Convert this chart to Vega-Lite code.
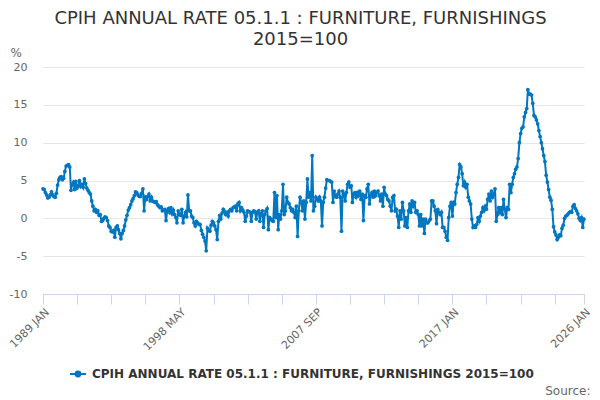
{
"$schema": "https://vega.github.io/schema/vega-lite/v6.json",
"width": 541, "height": 227,
"autosize": "none",
"padding": {"left": 43, "top": 67, "right": 16, "bottom": 106},
"background": "white",
"config": {"font": "DejaVu Sans", "view": {"stroke": null}},
"title": {"text": ["CPIH ANNUAL RATE 05.1.1 : FURNITURE, FURNISHINGS", "2015=100"], "fontSize": 18, "fontWeight": "normal", "color": "#333333", "anchor": "middle", "dx": -13, "offset": 0, "dy": 3, "lineHeight": 21},
"data": {"values": [
{"d":"1989-01","v":3.9},{"d":"1989-02","v":3.8},{"d":"1989-03","v":3.4},{"d":"1989-04","v":3.1},{"d":"1989-05","v":2.7},{"d":"1989-06","v":2.8},{"d":"1989-07","v":3.1},{"d":"1989-08","v":3.5},{"d":"1989-09","v":3.1},{"d":"1989-10","v":2.9},{"d":"1989-11","v":2.8},{"d":"1989-12","v":3.3},
{"d":"1990-01","v":4.4},{"d":"1990-02","v":5.1},{"d":"1990-03","v":5.4},{"d":"1990-04","v":5.5},{"d":"1990-05","v":5.1},{"d":"1990-06","v":5.3},{"d":"1990-07","v":6.2},{"d":"1990-08","v":6.9},{"d":"1990-09","v":7.0},{"d":"1990-10","v":7.1},{"d":"1990-11","v":6.8},{"d":"1990-12","v":3.7},
{"d":"1991-01","v":4.5},{"d":"1991-02","v":4.8},{"d":"1991-03","v":3.8},{"d":"1991-04","v":4.9},{"d":"1991-05","v":4.0},{"d":"1991-06","v":4.3},{"d":"1991-07","v":5.0},{"d":"1991-08","v":4.2},{"d":"1991-09","v":4.5},{"d":"1991-10","v":4.1},{"d":"1991-11","v":5.2},{"d":"1991-12","v":4.6},
{"d":"1992-01","v":4.0},{"d":"1992-02","v":3.7},{"d":"1992-03","v":3.4},{"d":"1992-04","v":3.2},{"d":"1992-05","v":2.3},{"d":"1992-06","v":1.6},{"d":"1992-07","v":1.0},{"d":"1992-08","v":1.2},{"d":"1992-09","v":0.8},{"d":"1992-10","v":1.0},{"d":"1992-11","v":0.4},{"d":"1992-12","v":0.5},
{"d":"1993-01","v":-0.4},{"d":"1993-02","v":-0.3},{"d":"1993-03","v":0.0},{"d":"1993-04","v":0.2},{"d":"1993-05","v":0.1},{"d":"1993-06","v":-0.3},{"d":"1993-07","v":-1.0},{"d":"1993-08","v":-1.2},{"d":"1993-09","v":-1.7},{"d":"1993-10","v":-1.8},{"d":"1993-11","v":-1.6},{"d":"1993-12","v":-2.5},
{"d":"1994-01","v":-1.2},{"d":"1994-02","v":-1.0},{"d":"1994-03","v":-1.5},{"d":"1994-04","v":-2.0},{"d":"1994-05","v":-2.7},{"d":"1994-06","v":-2.0},{"d":"1994-07","v":-1.6},{"d":"1994-08","v":-1.0},{"d":"1994-09","v":-0.2},{"d":"1994-10","v":0.4},{"d":"1994-11","v":1.1},{"d":"1994-12","v":1.4},
{"d":"1995-01","v":1.8},{"d":"1995-02","v":2.3},{"d":"1995-03","v":2.6},{"d":"1995-04","v":3.0},{"d":"1995-05","v":3.5},{"d":"1995-06","v":3.4},{"d":"1995-07","v":3.1},{"d":"1995-08","v":2.9},{"d":"1995-09","v":2.9},{"d":"1995-10","v":3.3},{"d":"1995-11","v":3.9},{"d":"1995-12","v":1.0},
{"d":"1996-01","v":2.8},{"d":"1996-02","v":2.5},{"d":"1996-03","v":2.9},{"d":"1996-04","v":3.2},{"d":"1996-05","v":2.3},{"d":"1996-06","v":2.8},{"d":"1996-07","v":2.3},{"d":"1996-08","v":2.2},{"d":"1996-09","v":2.1},{"d":"1996-10","v":2.2},{"d":"1996-11","v":1.8},{"d":"1996-12","v":1.6},
{"d":"1997-01","v":1.4},{"d":"1997-02","v":1.5},{"d":"1997-03","v":1.0},{"d":"1997-04","v":1.1},{"d":"1997-05","v":1.2},{"d":"1997-06","v":-0.3},{"d":"1997-07","v":1.0},{"d":"1997-08","v":1.3},{"d":"1997-09","v":0.8},{"d":"1997-10","v":1.4},{"d":"1997-11","v":0.6},{"d":"1997-12","v":1.1},
{"d":"1998-01","v":0.5},{"d":"1998-02","v":0.1},{"d":"1998-03","v":-0.6},{"d":"1998-04","v":1.0},{"d":"1998-05","v":0.5},{"d":"1998-06","v":0.4},{"d":"1998-07","v":1.2},{"d":"1998-08","v":-0.6},{"d":"1998-09","v":0.3},{"d":"1998-10","v":0.8},{"d":"1998-11","v":0.2},{"d":"1998-12","v":3.1},
{"d":"1999-01","v":1.0},{"d":"1999-02","v":1.0},{"d":"1999-03","v":0.3},{"d":"1999-04","v":0.1},{"d":"1999-05","v":-0.6},{"d":"1999-06","v":-1.0},{"d":"1999-07","v":-0.4},{"d":"1999-08","v":-0.6},{"d":"1999-09","v":-0.8},{"d":"1999-10","v":-0.8},{"d":"1999-11","v":-1.6},{"d":"1999-12","v":-2.1},
{"d":"2000-01","v":-2.5},{"d":"2000-02","v":-3.0},{"d":"2000-03","v":-4.3},{"d":"2000-04","v":-1.3},{"d":"2000-05","v":-1.6},{"d":"2000-06","v":-1.7},{"d":"2000-07","v":-0.9},{"d":"2000-08","v":-0.4},{"d":"2000-09","v":-0.6},{"d":"2000-10","v":-1.0},{"d":"2000-11","v":-1.5},{"d":"2000-12","v":-2.8},
{"d":"2001-01","v":-0.4},{"d":"2001-02","v":0.4},{"d":"2001-03","v":-0.1},{"d":"2001-04","v":0.7},{"d":"2001-05","v":1.2},{"d":"2001-06","v":0.9},{"d":"2001-07","v":0.5},{"d":"2001-08","v":0.8},{"d":"2001-09","v":0.3},{"d":"2001-10","v":1.0},{"d":"2001-11","v":1.2},{"d":"2001-12","v":1.0},
{"d":"2002-01","v":1.4},{"d":"2002-02","v":1.5},{"d":"2002-03","v":1.6},{"d":"2002-04","v":1.0},{"d":"2002-05","v":1.9},{"d":"2002-06","v":2.1},{"d":"2002-07","v":1.0},{"d":"2002-08","v":1.4},{"d":"2002-09","v":1.1},{"d":"2002-10","v":0.8},{"d":"2002-11","v":-0.4},{"d":"2002-12","v":0.3},
{"d":"2003-01","v":1.0},{"d":"2003-02","v":0.9},{"d":"2003-03","v":0.8},{"d":"2003-04","v":-0.4},{"d":"2003-05","v":0.8},{"d":"2003-06","v":1.0},{"d":"2003-07","v":0.9},{"d":"2003-08","v":-0.1},{"d":"2003-09","v":0.8},{"d":"2003-10","v":1.0},{"d":"2003-11","v":-0.4},{"d":"2003-12","v":0.6},
{"d":"2004-01","v":1.0},{"d":"2004-02","v":-1.2},{"d":"2004-03","v":0.5},{"d":"2004-04","v":1.0},{"d":"2004-05","v":1.3},{"d":"2004-06","v":-1.5},{"d":"2004-07","v":0.1},{"d":"2004-08","v":-0.1},{"d":"2004-09","v":-0.3},{"d":"2004-10","v":-0.4},{"d":"2004-11","v":3.4},{"d":"2004-12","v":0.1},
{"d":"2005-01","v":3.0},{"d":"2005-02","v":-1.5},{"d":"2005-03","v":0.5},{"d":"2005-04","v":-0.1},{"d":"2005-05","v":1.0},{"d":"2005-06","v":4.5},{"d":"2005-07","v":0.5},{"d":"2005-08","v":1.0},{"d":"2005-09","v":2.8},{"d":"2005-10","v":2.1},{"d":"2005-11","v":1.9},{"d":"2005-12","v":1.4},
{"d":"2006-01","v":1.0},{"d":"2006-02","v":1.2},{"d":"2006-03","v":0.8},{"d":"2006-04","v":0.1},{"d":"2006-05","v":1.6},{"d":"2006-06","v":-2.4},{"d":"2006-07","v":1.0},{"d":"2006-08","v":2.8},{"d":"2006-09","v":2.1},{"d":"2006-10","v":1.0},{"d":"2006-11","v":2.3},{"d":"2006-12","v":-0.1},
{"d":"2007-01","v":2.1},{"d":"2007-02","v":5.2},{"d":"2007-03","v":2.8},{"d":"2007-04","v":3.4},{"d":"2007-05","v":2.3},{"d":"2007-06","v":8.3},{"d":"2007-07","v":1.0},{"d":"2007-08","v":1.6},{"d":"2007-09","v":2.8},{"d":"2007-10","v":2.5},{"d":"2007-11","v":2.3},{"d":"2007-12","v":2.8},
{"d":"2008-01","v":2.3},{"d":"2008-02","v":-1.0},{"d":"2008-03","v":2.1},{"d":"2008-04","v":2.8},{"d":"2008-05","v":4.0},{"d":"2008-06","v":5.1},{"d":"2008-07","v":5.0},{"d":"2008-08","v":5.0},{"d":"2008-09","v":4.9},{"d":"2008-10","v":4.8},{"d":"2008-11","v":2.1},{"d":"2008-12","v":3.6},
{"d":"2009-01","v":2.9},{"d":"2009-02","v":2.8},{"d":"2009-03","v":3.2},{"d":"2009-04","v":3.6},{"d":"2009-05","v":2.8},{"d":"2009-06","v":-1.7},{"d":"2009-07","v":3.6},{"d":"2009-08","v":3.2},{"d":"2009-09","v":2.3},{"d":"2009-10","v":3.4},{"d":"2009-11","v":4.5},{"d":"2009-12","v":4.8},
{"d":"2010-01","v":4.1},{"d":"2010-02","v":4.3},{"d":"2010-03","v":2.1},{"d":"2010-04","v":3.2},{"d":"2010-05","v":3.4},{"d":"2010-06","v":2.8},{"d":"2010-07","v":3.4},{"d":"2010-08","v":3.0},{"d":"2010-09","v":3.6},{"d":"2010-10","v":2.5},{"d":"2010-11","v":3.2},{"d":"2010-12","v":-0.3},
{"d":"2011-01","v":3.0},{"d":"2011-02","v":2.8},{"d":"2011-03","v":3.9},{"d":"2011-04","v":4.5},{"d":"2011-05","v":1.9},{"d":"2011-06","v":3.0},{"d":"2011-07","v":3.4},{"d":"2011-08","v":2.8},{"d":"2011-09","v":3.6},{"d":"2011-10","v":3.0},{"d":"2011-11","v":3.4},{"d":"2011-12","v":3.6},
{"d":"2012-01","v":3.0},{"d":"2012-02","v":2.3},{"d":"2012-03","v":3.2},{"d":"2012-04","v":1.6},{"d":"2012-05","v":4.1},{"d":"2012-06","v":3.2},{"d":"2012-07","v":3.0},{"d":"2012-08","v":2.5},{"d":"2012-09","v":2.3},{"d":"2012-10","v":1.6},{"d":"2012-11","v":1.0},{"d":"2012-12","v":2.8},
{"d":"2013-01","v":3.0},{"d":"2013-02","v":1.0},{"d":"2013-03","v":1.2},{"d":"2013-04","v":0.3},{"d":"2013-05","v":-1.2},{"d":"2013-06","v":1.0},{"d":"2013-07","v":-0.1},{"d":"2013-08","v":2.1},{"d":"2013-09","v":1.0},{"d":"2013-10","v":-1.0},{"d":"2013-11","v":0.1},{"d":"2013-12","v":-1.2},
{"d":"2014-01","v":1.0},{"d":"2014-02","v":1.9},{"d":"2014-03","v":0.8},{"d":"2014-04","v":2.3},{"d":"2014-05","v":1.6},{"d":"2014-06","v":2.1},{"d":"2014-07","v":0.8},{"d":"2014-08","v":1.0},{"d":"2014-09","v":0.5},{"d":"2014-10","v":-1.0},{"d":"2014-11","v":0.5},{"d":"2014-12","v":-1.0},
{"d":"2015-01","v":-0.1},{"d":"2015-02","v":-2.0},{"d":"2015-03","v":-0.1},{"d":"2015-04","v":-0.6},{"d":"2015-05","v":-0.6},{"d":"2015-06","v":-0.3},{"d":"2015-07","v":-0.1},{"d":"2015-08","v":2.3},{"d":"2015-09","v":2.3},{"d":"2015-10","v":1.6},{"d":"2015-11","v":1.0},{"d":"2015-12","v":-0.7},
{"d":"2016-01","v":1.2},{"d":"2016-02","v":0.8},{"d":"2016-03","v":0.5},{"d":"2016-04","v":0.8},{"d":"2016-05","v":-1.2},{"d":"2016-06","v":-1.2},{"d":"2016-07","v":-1.7},{"d":"2016-08","v":-2.5},{"d":"2016-09","v":-2.9},{"d":"2016-10","v":0.1},{"d":"2016-11","v":1.6},{"d":"2016-12","v":2.1},
{"d":"2017-01","v":0.3},{"d":"2017-02","v":2.1},{"d":"2017-03","v":1.9},{"d":"2017-04","v":3.4},{"d":"2017-05","v":4.5},{"d":"2017-06","v":5.4},{"d":"2017-07","v":7.1},{"d":"2017-08","v":6.8},{"d":"2017-09","v":5.9},{"d":"2017-10","v":4.3},{"d":"2017-11","v":4.8},{"d":"2017-12","v":4.1},
{"d":"2018-01","v":4.5},{"d":"2018-02","v":2.8},{"d":"2018-03","v":2.3},{"d":"2018-04","v":1.9},{"d":"2018-05","v":-0.1},{"d":"2018-06","v":-1.2},{"d":"2018-07","v":-1.0},{"d":"2018-08","v":-1.2},{"d":"2018-09","v":-0.8},{"d":"2018-10","v":0.1},{"d":"2018-11","v":-0.4},{"d":"2018-12","v":0.3},
{"d":"2019-01","v":0.8},{"d":"2019-02","v":1.4},{"d":"2019-03","v":1.0},{"d":"2019-04","v":1.6},{"d":"2019-05","v":1.2},{"d":"2019-06","v":2.5},{"d":"2019-07","v":3.2},{"d":"2019-08","v":2.3},{"d":"2019-09","v":3.6},{"d":"2019-10","v":2.8},{"d":"2019-11","v":3.2},{"d":"2019-12","v":3.9},
{"d":"2020-01","v":-0.4},{"d":"2020-02","v":0.5},{"d":"2020-03","v":1.4},{"d":"2020-04","v":0.8},{"d":"2020-05","v":1.4},{"d":"2020-06","v":0.5},{"d":"2020-07","v":2.5},{"d":"2020-08","v":1.2},{"d":"2020-09","v":0.1},{"d":"2020-10","v":1.4},{"d":"2020-11","v":1.2},{"d":"2020-12","v":4.5},
{"d":"2021-01","v":3.4},{"d":"2021-02","v":4.5},{"d":"2021-03","v":5.4},{"d":"2021-04","v":5.9},{"d":"2021-05","v":6.5},{"d":"2021-06","v":6.8},{"d":"2021-07","v":7.9},{"d":"2021-08","v":10.0},{"d":"2021-09","v":11.2},{"d":"2021-10","v":11.9},{"d":"2021-11","v":12.1},{"d":"2021-12","v":13.4},
{"d":"2022-01","v":14.0},{"d":"2022-02","v":14.5},{"d":"2022-03","v":17.0},{"d":"2022-04","v":16.4},{"d":"2022-05","v":16.4},{"d":"2022-06","v":16.3},{"d":"2022-07","v":15.2},{"d":"2022-08","v":13.6},{"d":"2022-09","v":13.4},{"d":"2022-10","v":13.0},{"d":"2022-11","v":12.5},{"d":"2022-12","v":11.6},
{"d":"2023-01","v":10.8},{"d":"2023-02","v":10.0},{"d":"2023-03","v":9.2},{"d":"2023-04","v":8.3},{"d":"2023-05","v":7.5},{"d":"2023-06","v":5.7},{"d":"2023-07","v":4.8},{"d":"2023-08","v":3.8},{"d":"2023-09","v":2.8},{"d":"2023-10","v":2.4},{"d":"2023-11","v":1.2},{"d":"2023-12","v":-1.1},
{"d":"2024-01","v":-1.8},{"d":"2024-02","v":-2.2},{"d":"2024-03","v":-2.8},{"d":"2024-04","v":-2.5},{"d":"2024-05","v":-2.2},{"d":"2024-06","v":-2.3},{"d":"2024-07","v":-1.3},{"d":"2024-08","v":-0.9},{"d":"2024-09","v":0.0},{"d":"2024-10","v":0.3},{"d":"2024-11","v":0.4},{"d":"2024-12","v":0.6},
{"d":"2025-01","v":0.8},{"d":"2025-02","v":0.9},{"d":"2025-03","v":0.8},{"d":"2025-04","v":1.6},{"d":"2025-05","v":1.8},{"d":"2025-06","v":1.3},{"d":"2025-07","v":1.0},{"d":"2025-08","v":0.6},{"d":"2025-09","v":0.0},{"d":"2025-10","v":-0.3},{"d":"2025-11","v":0.1},{"d":"2025-12","v":-1.2},
{"d":"2026-01","v":-0.1}
]},
"mark": {"type": "line", "strokeWidth": 2, "point": {"filled": true, "size": 14}},
"encoding": {
  "x": {"field": "d", "type": "temporal",
    "scale": {"type": "utc", "nice": false, "domain": [{"year": 1989, "month": 1, "date": 1, "utc": true}, {"year": 2026, "month": 1, "date": 1, "utc": true}]},
    "axis": {
      "values": [{"year":1989,"month":1,"date":1,"utc":true},{"year":1991,"month":5,"date":1,"utc":true},{"year":1993,"month":9,"date":1,"utc":true},{"year":1996,"month":1,"date":1,"utc":true},{"year":1998,"month":5,"date":1,"utc":true},{"year":2000,"month":9,"date":1,"utc":true},{"year":2003,"month":1,"date":1,"utc":true},{"year":2005,"month":5,"date":1,"utc":true},{"year":2007,"month":9,"date":1,"utc":true},{"year":2010,"month":1,"date":1,"utc":true},{"year":2012,"month":5,"date":1,"utc":true},{"year":2014,"month":9,"date":1,"utc":true},{"year":2017,"month":1,"date":1,"utc":true},{"year":2019,"month":5,"date":1,"utc":true},{"year":2021,"month":9,"date":1,"utc":true},{"year":2024,"month":1,"date":1,"utc":true},{"year":2026,"month":1,"date":1,"utc":true}],
      "labelExpr": "indexof(['1989-01','1998-05','2007-09','2017-01','2026-01'], utcFormat(datum.value, '%Y-%m')) >= 0 ? upper(utcFormat(datum.value, '%Y %b')) : ''",
      "title": "Source:", "titleAnchor": "end", "titleAlign": "right", "titleX": 547, "titleY": 100, "titleBaseline": "alphabetic",
      "titleFontSize": 12, "titleFontWeight": "normal", "titleColor": "#666666",
      "domainColor": "#ccd6eb", "tickColor": "#ccd6eb", "tickSize": 10, "grid": false,
      "labelAngle": -45, "labelAlign": "right", "labelBaseline": "top", "labelFontSize": 11, "labelColor": "#666666",
      "labelPadding": 2, "labelOverlap": false, "labelFlush": false, "labelBound": false
    }},
  "y": {"field": "v", "type": "quantitative",
    "scale": {"domain": [-10, 20], "nice": false, "zero": false},
    "axis": {"values": [-10, -5, 0, 5, 10, 15, 20], "domain": false, "ticks": false, "labelPadding": 16,
      "labelExpr": "toString(datum.value)",
      "labelFontSize": 11, "labelColor": "#666666", "gridColor": "#e6e6e6",
      "title": "%", "titleAngle": 0, "titleX": -33, "titleY": -11, "titleAlign": "left", "titleBaseline": "alphabetic",
      "titleFontSize": 12, "titleFontWeight": "normal", "titleColor": "#666666"}},
  "color": {"datum": "CPIH ANNUAL RATE 05.1.1 : FURNITURE, FURNISHINGS 2015=100",
    "scale": {"range": ["#0077c0"]},
    "legend": {"orient": "none", "legendX": 26, "legendY": 298, "direction": "horizontal", "title": null,
      "symbolType": "M-1,0H1M0.3,0A0.3,0.3,0,1,1,-0.3,0A0.3,0.3,0,1,1,0.3,0", "symbolSize": 256, "symbolStrokeWidth": 2,
      "labelFontSize": 12, "labelFontWeight": "bold", "labelColor": "#333333", "labelLimit": 0, "labelOffset": 5}}
}
}
